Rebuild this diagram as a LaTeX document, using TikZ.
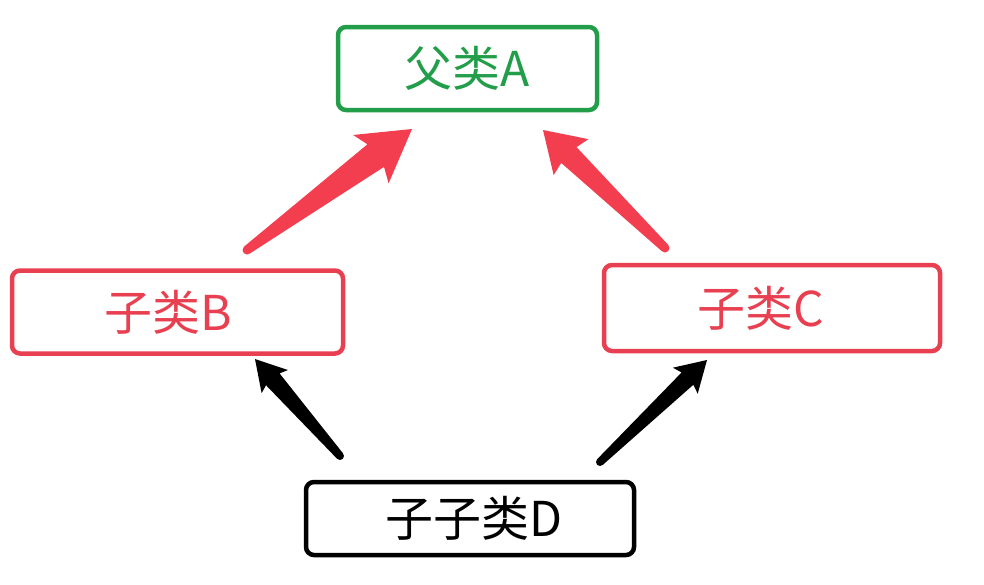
\documentclass[tikz,border=0pt]{standalone}
\usepackage{fontspec}
\newfontfamily\cjk{Noto Sans CJK SC}
\usetikzlibrary{calc}
\definecolor{agreen}{RGB}{34,158,75}
\definecolor{bred}{RGB}{232,64,80}
\definecolor{ared}{RGB}{243,62,80}
\tikzset{
  box/.style={draw, line width=4.5pt, rounded corners=8pt, inner sep=0pt, fill=white,
    font=\cjk\fontsize{48}{52}\selectfont},
}
% tail, tip, colour, head length, notch, barb half width, neck half width, tail half width
\newcommand\tarrow[8]{%
  \coordinate (nk) at ($(#2)!#5pt!(#1)$);
  \coordinate (hd) at ($(#2)!#4pt!(#1)$);
  \fill[#3] ($(#1)!#8pt!90:(#2)$) -- ($(nk)!#7pt!90:(#2)$) -- ($(hd)!#6pt!90:(#2)$)
    -- (#2) -- ($(hd)!#6pt!-90:(#2)$) -- ($(nk)!#7pt!-90:(#2)$) -- ($(#1)!#8pt!-90:(#2)$) -- cycle;
  \fill[#3] (#1) circle[radius=#8pt];
}
\begin{document}
\begin{tikzpicture}[x=1pt,y=-1pt]
\useasboundingbox (0,0) rectangle (984,584);
\node[box, draw=agreen, text=agreen, minimum width=259pt, minimum height=83pt] (A) at (467.5,68.5) {父类A};
\node[box, draw=bred, text=bred, minimum width=331pt, minimum height=83pt] (B) at (177.5,312) {\hspace*{-18pt}子类B};
\node[box, draw=bred, text=bred, minimum width=336pt, minimum height=86pt] (C) at (772,308) {\hspace*{-22pt}子类C};
\node[box, draw=black, text=black, minimum width=328pt, minimum height=73pt] (D) at (470,518.5) {\hspace*{8pt}子子类D};
\coordinate (t1) at (247,250); \coordinate (h1) at (412,129);
\coordinate (t2) at (665,248); \coordinate (h2) at (543,130);
\coordinate (t3) at (340,456); \coordinate (h3) at (255,359);
\coordinate (t4) at (600,462); \coordinate (h4) at (707,360);
\tarrow{t1}{h1}{ared}{51}{45}{30}{14}{4.5}
\tarrow{t2}{h2}{ared}{39}{36}{25}{11}{4.5}
\tarrow{t3}{h3}{black}{30}{27}{17.5}{9}{4}
\tarrow{t4}{h4}{black}{30}{27}{18}{8.5}{4}
\end{tikzpicture}
\end{document}
